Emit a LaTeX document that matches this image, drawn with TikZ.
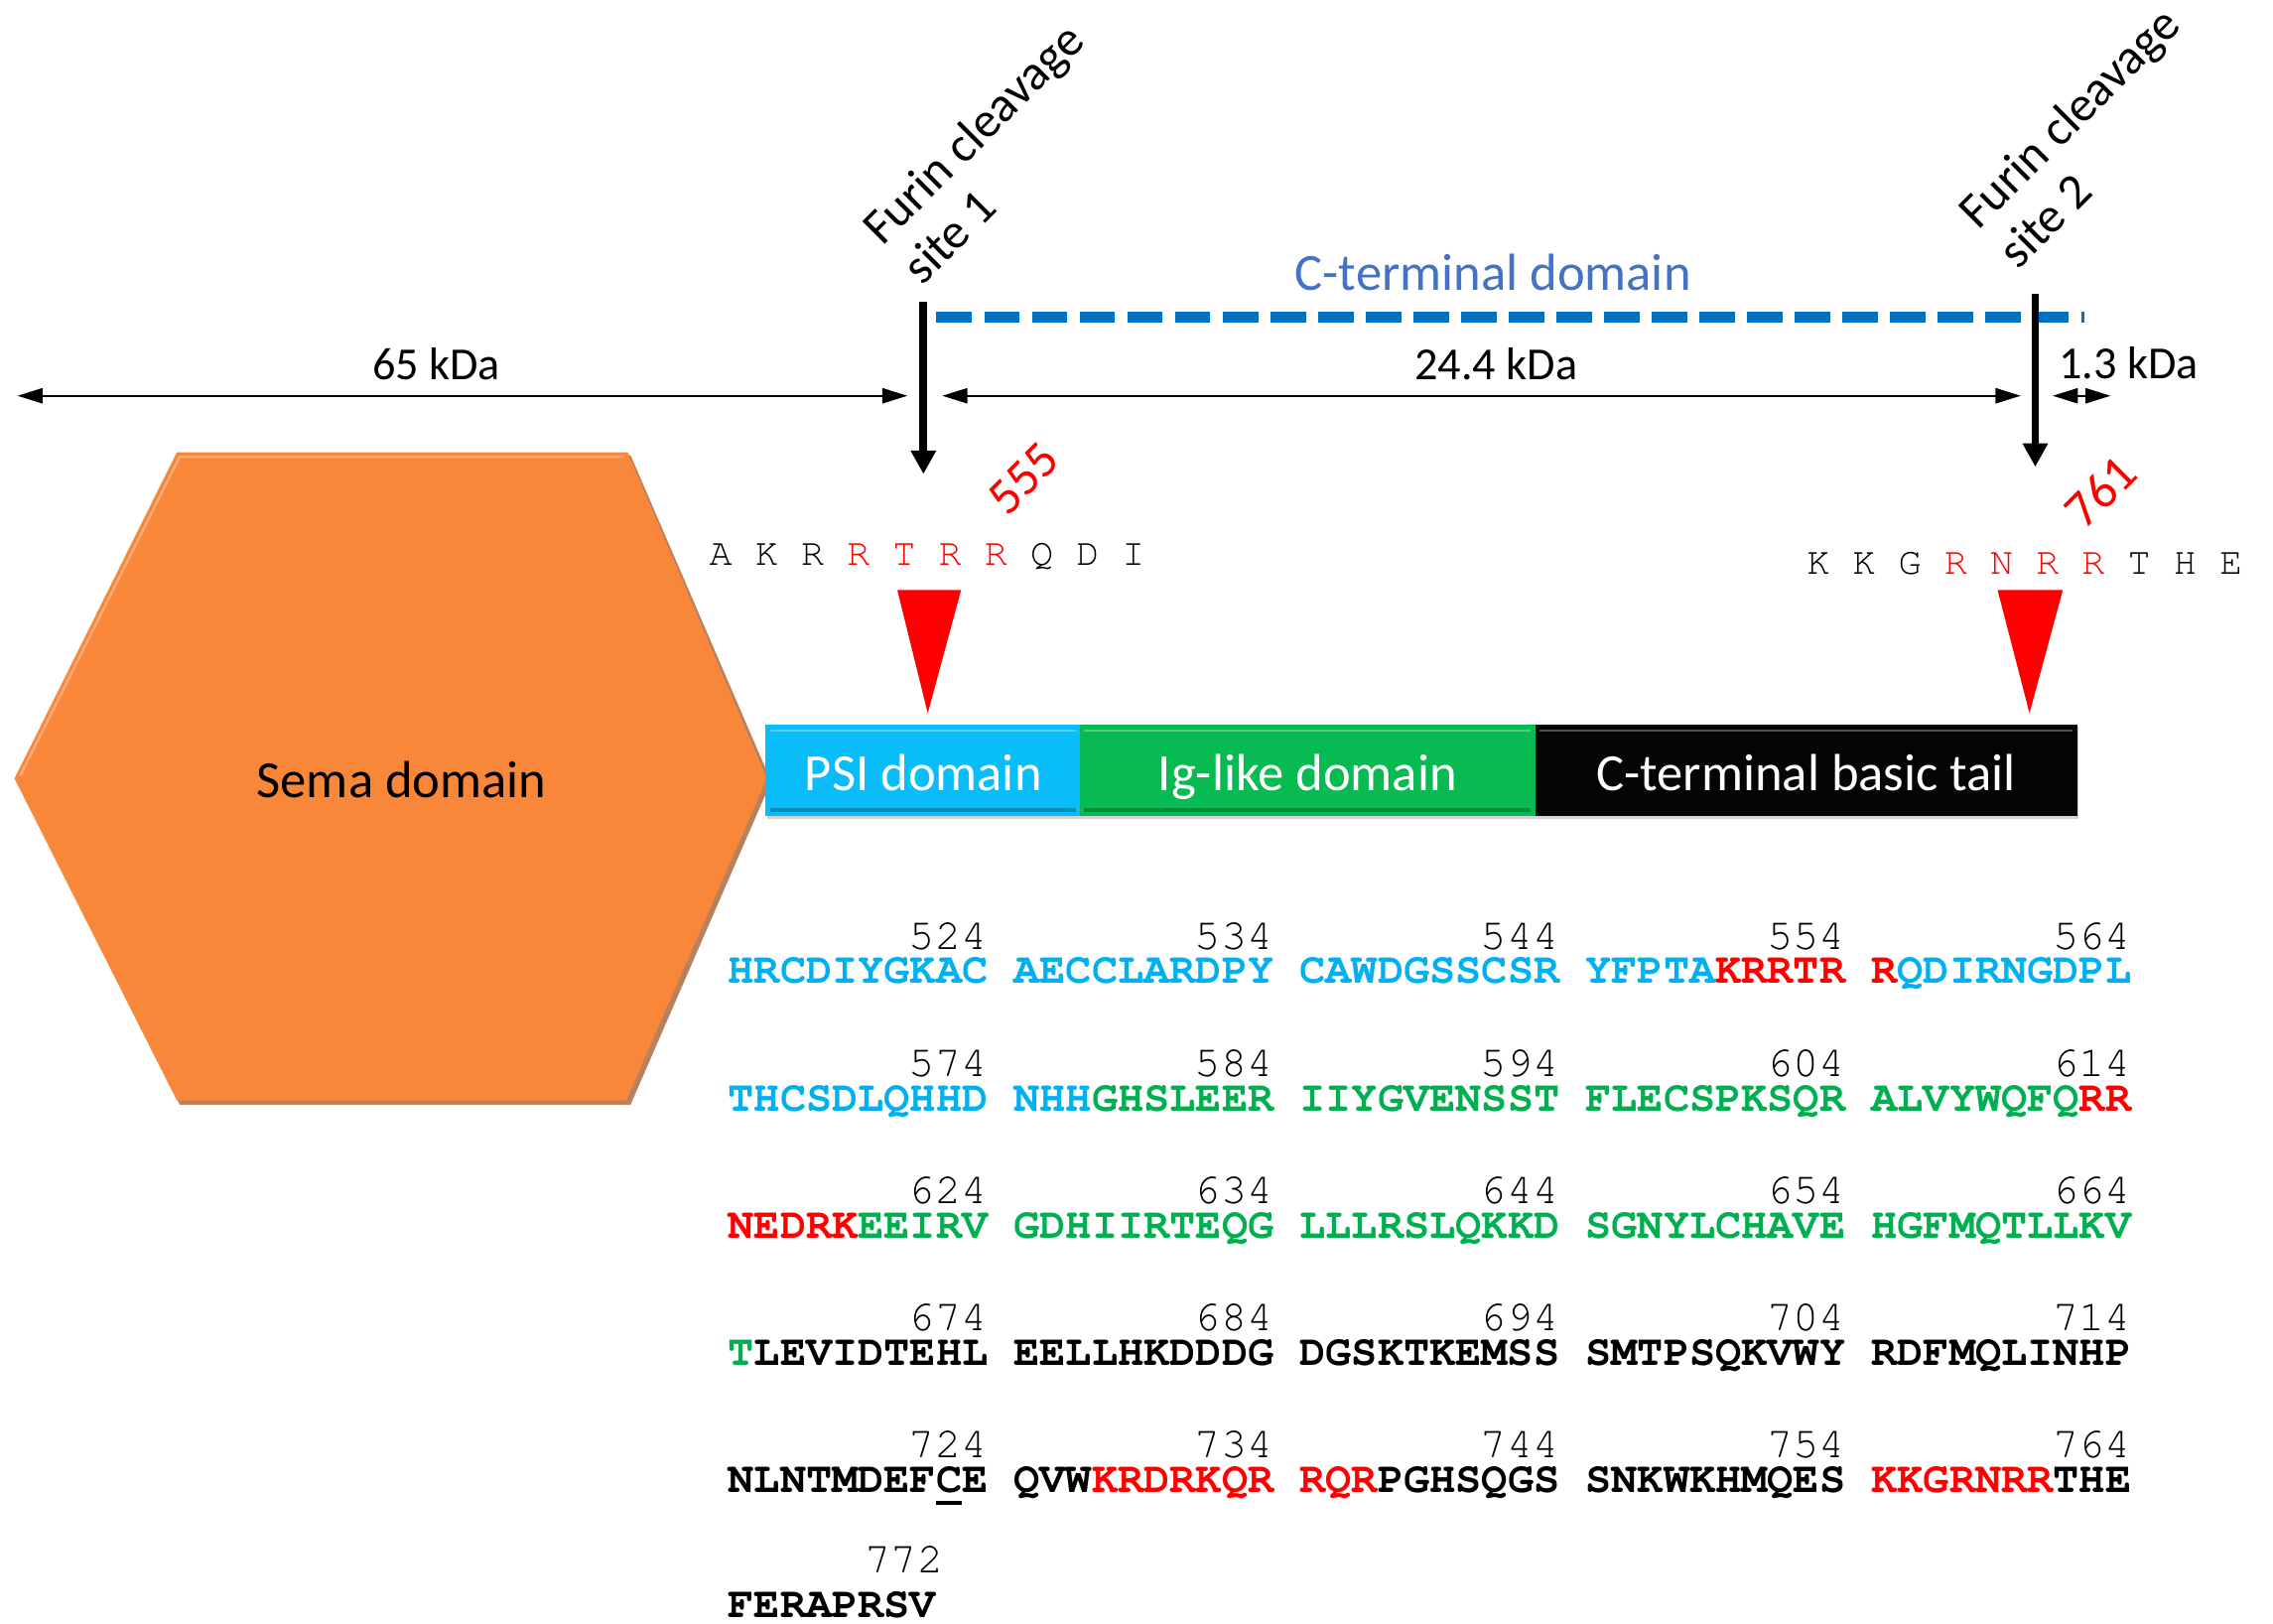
\documentclass[tikz,border=0pt]{standalone}
\usepackage{fontspec}
\setmainfont{Carlito}
\newfontfamily\seqfont{texgyrecursor}[Extension=.otf, UprightFont=*-regular, BoldFont=*-bold]
\usepackage{xcolor}
\usetikzlibrary{arrows.meta}

\definecolor{semaorange}{RGB}{248,135,58}
\definecolor{semarim}{RGB}{150,75,25}
\definecolor{psibox}{RGB}{10,188,248}
\definecolor{igbox}{RGB}{8,186,82}
\definecolor{tailbox}{RGB}{5,5,5}
\definecolor{psitext}{RGB}{0,176,240}
\definecolor{igtext}{RGB}{0,176,80}
\definecolor{ctlabel}{RGB}{68,114,196}
\definecolor{ctdash}{RGB}{0,112,192}

\newcommand{\psires}[1]{\textcolor{psitext}{#1}}
\newcommand{\igres}[1]{\textcolor{igtext}{#1}}
\newcommand{\furinres}[1]{\textcolor{red}{#1}}
\newcommand{\undermark}[1]{\rlap{\rule[-5pt]{0.6em}{1.6pt}}#1}

\begin{document}
\begin{tikzpicture}[x=0.2mm,y=-0.2mm,
  kda/.style={font=\fontsize{18}{21}\selectfont, inner sep=0},
  domlabel/.style={font=\fontsize{20.5}{24}\selectfont, inner sep=0, anchor=base},
  sitelabel/.style={font=\fontsize{19.5}{22}\selectfont, align=left, rotate=45, inner sep=0, anchor=west},
  cutpos/.style={font=\fontsize{20}{22}\selectfont, text=red, rotate=45, inner sep=0},
  motif/.style={font={\seqfont\fontsize{15}{18}\selectfont}, inner sep=0, anchor=base west},
  seqrow/.style={font={\seqfont\bfseries\fontsize{17}{20}\selectfont}, inner sep=0, anchor=base west},
  seqnum/.style={font={\seqfont\fontsize{17}{20}\selectfont}, inner sep=0, anchor=base east},
  dimarrow/.style={line width=0.9pt, {Triangle[length=9.9pt,width=5.9pt]}-{Triangle[length=9.9pt,width=5.9pt]}},
  cutarrow/.style={line width=3pt, -{Triangle[length=9.2pt,width=9.4pt]}}]
\useasboundingbox (0,0) rectangle (1568,1120);

% sema domain and the bar
\fill[semarim, opacity=.7] (124,314) -- (435,314) -- (532,539) -- (435,762) -- (124,762) -- (12,539) -- cycle;
\fill[semaorange] (122,312) -- (433,312) -- (529,537) -- (432,759) -- (122,759) -- (10,537) -- cycle;
\draw[white, opacity=.3, line width=1pt] (14,535) -- (124,315) -- (431,315);
\node[domlabel] (sema) at (277,550) {Sema domain};

\fill[black!50, opacity=.35] (529,501) rectangle (1434,565);
\fill[psibox] (528,500) rectangle (745,563);
\fill[igbox] (745,500) rectangle (1059,563);
\fill[tailbox] (1059,500) rectangle (1433,563);
\draw[white, opacity=.3, line width=1pt] (531,504) -- (742,504) (748,504) -- (1056,504) (1062,504) -- (1430,504);
\draw[black, opacity=.25, line width=1.5pt] (531,559) -- (742,559) (748,559) -- (1056,559);
\node[domlabel, text=white] (psi) at (637,545.5) {PSI domain};
\node[domlabel, text=white] (ig) at (902,545.5) {Ig-like domain};
\node[domlabel, text=white] (tail) at (1246,545.5) {C-terminal basic tail};

% cleavage sites
\fill[red] (619,407) -- (663,407) -- (640,492) -- cycle;
\fill[red] (1378,407) -- (1423,407) -- (1400,492) -- cycle;
\node[motif] (motif1) at (489,390) {A K R \furinres{R T R R} Q D I};
\node[motif] (motif2) at (1246,396) {K K G \furinres{R N R R} T H E};
\node[cutpos] (pos555) at (706,330) {555};
\node[cutpos] (pos761) at (1449,339) {761};

\node[sitelabel] (site1) at (614,176) {Furin cleavage\\site 1};
\node[sitelabel] (site2) at (1370,165) {Furin cleavage\\site 2};

\coordinate (ctstart) at (646,219);
\coordinate (ctend) at (1438,219);
\draw[ctdash, line width=4.3pt, dash pattern=on 13.94pt off 4.78pt] (ctstart) -- (ctend);
\node[font=\fontsize{20.5}{24}\selectfont, text=ctlabel, inner sep=0, anchor=base] (ctdomain) at (1030,200) {C-terminal domain};

\coordinate (cut1top) at (637,208);
\coordinate (cut1tip) at (637,327);
\coordinate (cut2top) at (1404,203);
\coordinate (cut2tip) at (1404,322);
\draw[cutarrow] (cut1top) -- (cut1tip);
\draw[cutarrow] (cut2top) -- (cut2tip);

% masses
\coordinate (left65) at (12,273);
\coordinate (right65) at (626,273);
\coordinate (left24) at (650,273);
\coordinate (right24) at (1394,273);
\coordinate (left13) at (1416,273);
\coordinate (right13) at (1456,273);
\draw[dimarrow] (left65) -- (right65);
\draw[dimarrow] (left24) -- (right24);
\draw[dimarrow] (left13) -- (right13);
\node[kda, anchor=base] (kda65) at (301,262) {65 kDa};
\node[kda, anchor=base] (kda24) at (1032,262) {24.4 kDa};
\node[kda, anchor=base west] (kda13) at (1420,261) {1.3 kDa};

% sequence 515-772
\node[seqrow] (row1) at (502,678.5) {\psires{HRCDIYGKAC AECCLARDPY CAWDGSSCSR YFPTA}\furinres{KRRTR R}\psires{QDIRNGDPL}};
\node[seqrow] (row2) at (502,766.2) {\psires{THCSDLQHHD NHH}\igres{GHSLEER IIYGVENSST FLECSPKSQR ALVYWQFQ}\furinres{RR}};
\node[seqrow] (row3) at (502,853.9) {\furinres{NEDRK}\igres{EEIRV GDHIIRTEQG LLLRSLQKKD SGNYLCHAVE HGFMQTLLKV}};
\node[seqrow] (row4) at (502,941.6) {\igres{T}LEVIDTEHL EELLHKDDDG DGSKTKEMSS SMTPSQKVWY RDFMQLINHP};
\node[seqrow] (row5) at (502,1029.3) {NLNTMDEF\undermark{C}E QVW\furinres{KRDRKQR RQR}PGHSQGS SNKWKHMQES \furinres{KKGRNRR}THE};
\node[seqrow] (row6) at (502,1115.5) {FERAPRSV};

\node[seqnum] (n524) at (681.3,655) {524};
\node[seqnum] (n534) at (878.5,655) {534};
\node[seqnum] (n544) at (1075.7,655) {544};
\node[seqnum] (n554) at (1273,655) {554};
\node[seqnum] (n564) at (1470.2,655) {564};
\node[seqnum] (n574) at (681.3,742.7) {574};
\node[seqnum] (n584) at (878.5,742.7) {584};
\node[seqnum] (n594) at (1075.7,742.7) {594};
\node[seqnum] (n604) at (1273,742.7) {604};
\node[seqnum] (n614) at (1470.2,742.7) {614};
\node[seqnum] (n624) at (681.3,830.4) {624};
\node[seqnum] (n634) at (878.5,830.4) {634};
\node[seqnum] (n644) at (1075.7,830.4) {644};
\node[seqnum] (n654) at (1273,830.4) {654};
\node[seqnum] (n664) at (1470.2,830.4) {664};
\node[seqnum] (n674) at (681.3,918.1) {674};
\node[seqnum] (n684) at (878.5,918.1) {684};
\node[seqnum] (n694) at (1075.7,918.1) {694};
\node[seqnum] (n704) at (1273,918.1) {704};
\node[seqnum] (n714) at (1470.2,918.1) {714};
\node[seqnum] (n724) at (681.3,1005.8) {724};
\node[seqnum] (n734) at (878.5,1005.8) {734};
\node[seqnum] (n744) at (1075.7,1005.8) {744};
\node[seqnum] (n754) at (1273,1005.8) {754};
\node[seqnum] (n764) at (1470.2,1005.8) {764};
\node[seqnum] (n772) at (651,1085) {772};

\end{tikzpicture}
\end{document}
